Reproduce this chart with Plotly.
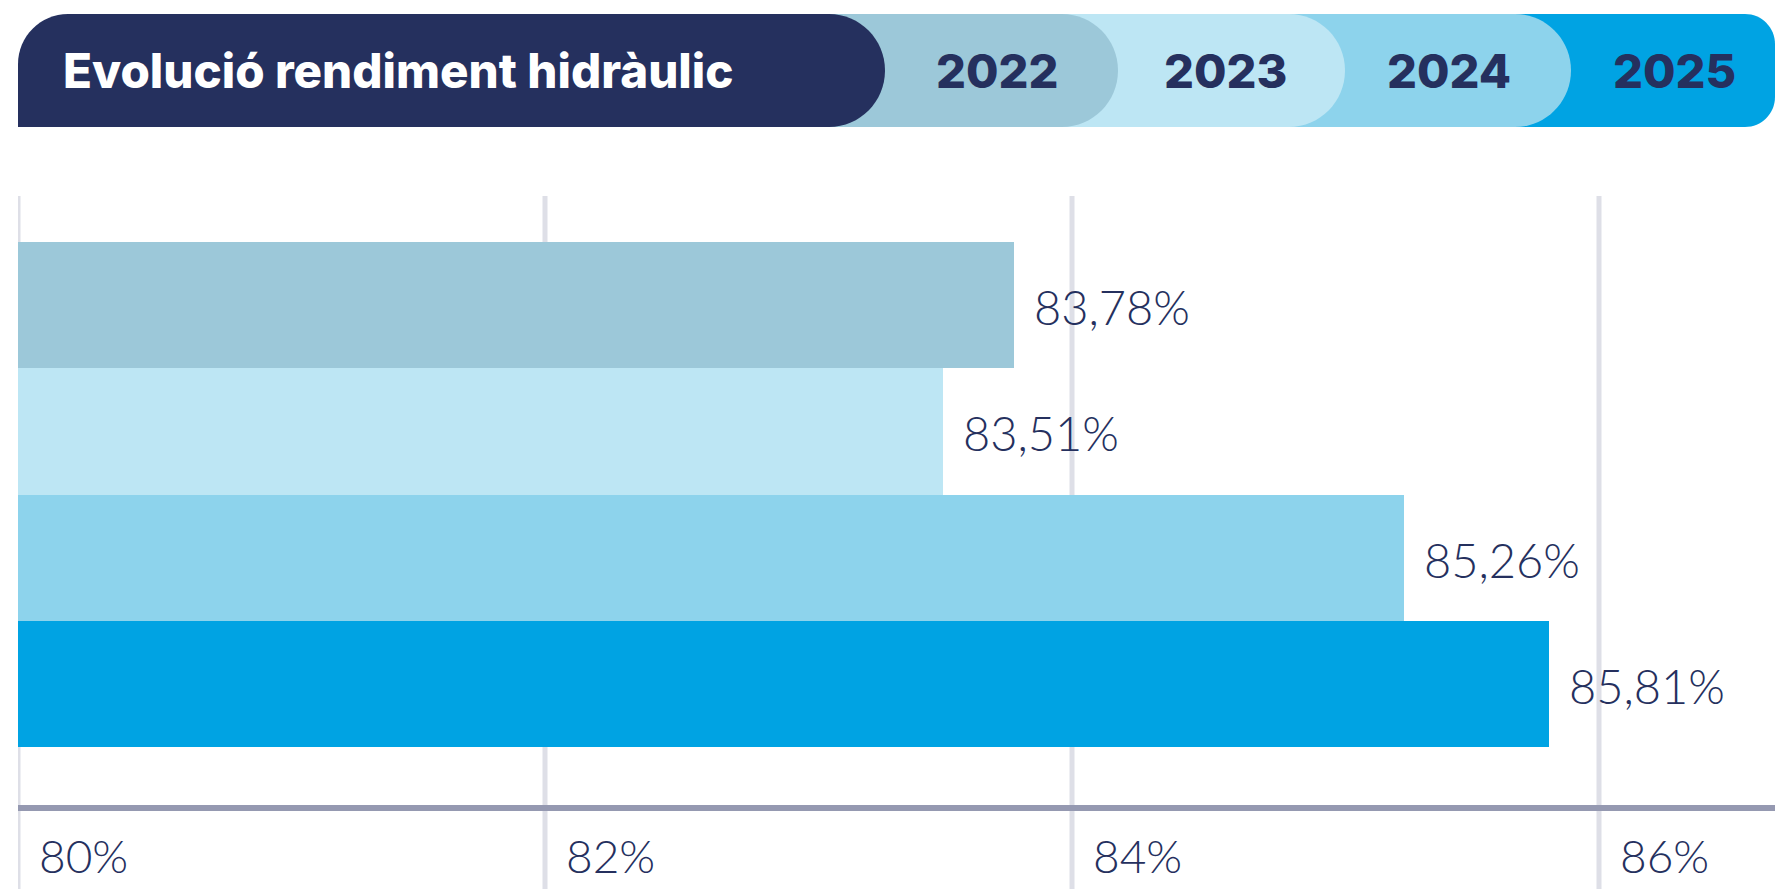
import plotly.graph_objects as go

# ---- data ----
years = ["2022", "2023", "2024", "2025"]
values = [83.78, 83.51, 85.26, 85.81]
tick_vals = [80, 82, 84, 86]
tick_text = ["80%", "82%", "84%", "86%"]
title_text = "Evolució rendiment hidràulic"

# ---- styles ----
bar_colors = ["#9CC8D9", "#BDE6F4", "#8DD3EC", "#00A3E3"]
navy = "#25305E"
grid_color = "#DEDFE7"
axis_color = "#9599B1"

W, H = 1775, 889
ML, MR, MT, MB = 18, 0, 196, 84
PW, PH = W - ML - MR, H - MT - MB


def px(x):
    return (x - ML) / PW


def py(y):
    return (H - MB - y) / PH


K = 0.5523


def pill(x0, x1, yt, yb, rx, rtl=0.0):
    ym = (yt + yb) / 2
    ry = (yb - yt) / 2
    s = f"M {px(x0)},{py(yb)} "
    if rtl > 0:
        s += f"L {px(x0)},{py(yt + rtl)} "
        s += (f"C {px(x0)},{py(yt + rtl - K * rtl)} {px(x0 + rtl - K * rtl)},{py(yt)} "
              f"{px(x0 + rtl)},{py(yt)} ")
    else:
        s += f"L {px(x0)},{py(yt)} "
    s += f"L {px(x1 - rx)},{py(yt)} "
    s += (f"C {px(x1 - rx + K * rx)},{py(yt)} {px(x1)},{py(ym - K * ry)} "
          f"{px(x1)},{py(ym)} ")
    s += (f"C {px(x1)},{py(ym + K * ry)} {px(x1 - rx + K * rx)},{py(yb)} "
          f"{px(x1 - rx)},{py(yb)} Z")
    return s


def rounded_end(x0, x1, yt, yb, r):
    s = f"M {px(x0)},{py(yb)} L {px(x0)},{py(yt)} L {px(x1 - r)},{py(yt)} "
    s += f"C {px(x1 - r + K * r)},{py(yt)} {px(x1)},{py(yt + r - K * r)} {px(x1)},{py(yt + r)} "
    s += f"L {px(x1)},{py(yb - r)} "
    s += f"C {px(x1)},{py(yb - r + K * r)} {px(x1 - r + K * r)},{py(yb)} {px(x1 - r)},{py(yb)} Z"
    return s


fig = go.Figure()
fig.add_trace(go.Bar(
    x=values, y=years, orientation="h",
    marker=dict(color=bar_colors, line=dict(width=0)),
    width=1, hoverinfo="skip",
))

shapes = []
# gridlines (extend below the axis)
for tv in tick_vals:
    shapes.append(dict(type="line", xref="x", yref="paper", x0=tv, x1=tv,
                       y0=py(H + 5), y1=1, line=dict(color=grid_color, width=5),
                       layer="below"))

# header
HT, HB = 14, 127
seg_right = [1118, 1345, 1571, 1775]
seg_left = [785, 1018, 1245, 1471]
shapes.append(dict(type="path", xref="paper", yref="paper",
                   path=rounded_end(seg_left[3], seg_right[3], HT, HB, 30),
                   fillcolor=bar_colors[3], line=dict(width=0)))
for i in [2, 1, 0]:
    shapes.append(dict(type="path", xref="paper", yref="paper",
                       path=pill(seg_left[i], seg_right[i], HT, HB, 56),
                       fillcolor=bar_colors[i], line=dict(width=0)))
shapes.append(dict(type="path", xref="paper", yref="paper",
                   path=pill(ML, 885, HT, HB, 56, rtl=50),
                   fillcolor=navy, line=dict(width=0)))

annotations = []
annotations.append(dict(text=title_text, xref="paper", yref="paper",
                        x=px(61), y=py(71), xanchor="left", yanchor="middle",
                        showarrow=False,
                        font=dict(family="Inter", size=47.5, color="white", weight=800)))
year_cx = [997, 1225, 1449, 1674]
for yr, cx in zip(years, year_cx):
    annotations.append(dict(text=yr, xref="paper", yref="paper",
                            x=px(cx), y=py(71), xanchor="center", yanchor="middle",
                            showarrow=False,
                            font=dict(family="Inter", size=47, color=navy, weight=800)))

for i, v in enumerate(values):
    annotations.append(dict(text=f"{v:.2f}".replace(".", ",") + "%",
                            x=v, y=i, xref="x", yref="y",
                            xanchor="left", yanchor="middle", xshift=18, yshift=-2,
                            showarrow=False,
                            font=dict(family="Lato", size=47, color=navy, weight=300)))

fig.update_layout(
    width=W, height=H,
    margin=dict(l=ML, r=MR, t=MT, b=MB, autoexpand=False),
    paper_bgcolor="white", plot_bgcolor="white",
    showlegend=False, bargap=0,
    shapes=shapes, annotations=annotations,
    xaxis=dict(range=[80, 80 + PW / 263.5], tickvals=tick_vals, ticktext=tick_text,
               showgrid=False, zeroline=False, automargin=False,
               showline=True, linecolor=axis_color, linewidth=6,
               ticks="", ticklabelposition="outside right", ticklabelshift=18,
               ticklabelstandoff=7,
               tickfont=dict(family="Lato", size=46, color=navy, weight=300),
               fixedrange=True),
    yaxis=dict(type="category", range=[3.958, -0.864], visible=False,
               automargin=False, fixedrange=True),
)

fig.write_html("out.html", config={"displayModeBar": False, "staticPlot": True},
               post_script="document.body.style.margin='0px';")
